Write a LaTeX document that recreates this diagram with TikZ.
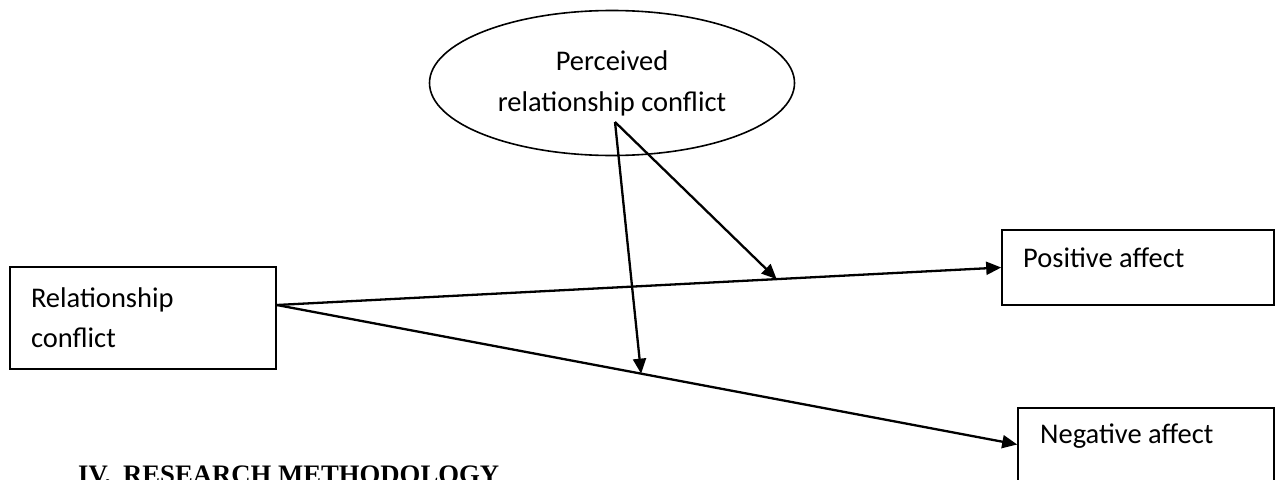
\documentclass[tikz,border=0pt]{standalone}
\usepackage{fontspec}
\setmainfont{Carlito}
\newfontfamily\headfont{Liberation Serif}
\usetikzlibrary{shapes.geometric,arrows.meta,calc}
\begin{document}
\begin{tikzpicture}[x=1pt,y=-1pt,
  boxnode/.style={draw=black,line width=1.6pt,rectangle,inner sep=0pt,font=\fontsize{28.5}{40}\selectfont},
  ellnode/.style={draw=black,line width=1.6pt,ellipse,inner sep=0pt,minimum width=365pt,minimum height=145pt,align=center,font=\fontsize{28.5}{42}\selectfont},
  arr/.style={line width=2.3pt,-{Triangle[length=15pt,width=13pt]}}]
\useasboundingbox (0,0) rectangle (1276,479);
\clip (0,0) rectangle (1276,479);
% ellipse moderator
\node[ellnode] (pc) at (612,83) {Perceived\\[-1pt]relationship conflict};
% left box
\node[boxnode,minimum width=266pt,minimum height=102pt,text width=224pt,align=left] (rc) at (143,318) {Relationship\\conflict};
% positive affect box
\node[boxnode,minimum width=272pt,minimum height=75pt] (pos) at (1138,267.5) {};
\node[font=\fontsize{28.5}{34}\selectfont,anchor=west,inner sep=0pt] (post) at (1023,258) {Positive affect};
% negative affect box (bottom cut off)
\node[boxnode,minimum width=256pt,minimum height=73pt] (neg) at (1146,444.5) {};
\node[font=\fontsize{28.5}{34}\selectfont,anchor=west,inner sep=0pt] (negt) at (1040,436) {Negative affect};
% heading (cut off at bottom)
\node[font=\headfont\bfseries\fontsize{26.7}{30}\selectfont,anchor=base west,inner sep=0pt] (head) at (78,483) {IV.\hspace{12pt}RESEARCH METHODOLOGY};
% connectors
\coordinate (src) at ([yshift=13pt]rc.east);
\coordinate (apex) at ([xshift=3pt,yshift=-39pt]pc.center);
\draw[arr] (src) -- (pos.west);
\draw[arr] (src) -- (neg.west);
\coordinate (mpos) at ($(src)!0.69!(pos.west)$);
\coordinate (mneg) at ($(src)!0.492!(neg.west)$);
\draw[arr] (apex) -- (mpos);
\draw[arr] (apex) -- (mneg);
\end{tikzpicture}
\end{document}
